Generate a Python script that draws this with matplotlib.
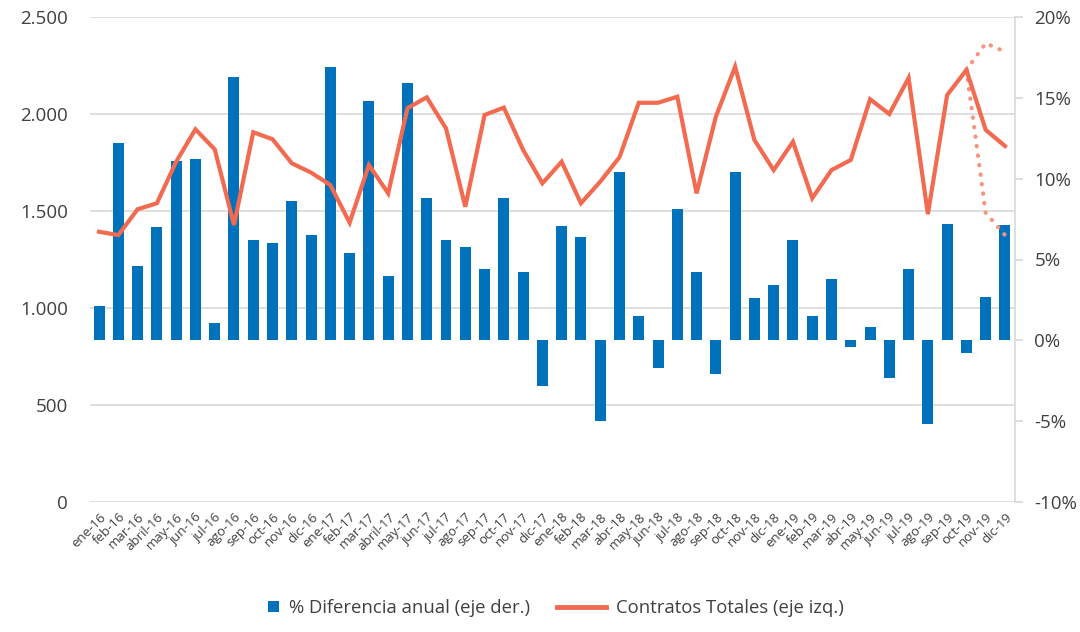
import numpy as np
import matplotlib.pyplot as plt
from matplotlib.ticker import FuncFormatter, MultipleLocator
from matplotlib.lines import Line2D
from matplotlib.patches import Rectangle
from matplotlib.legend_handler import HandlerBase

plt.rcParams['font.family'] = ['Open Sans', 'DejaVu Sans']

meses = [
    "ene-16", "feb-16", "mar-16", "abril-16", "may-16", "jun-16", "jul-16", "ago-16",
    "sep-16", "oct-16", "nov-16", "dic-16",
    "ene-17", "feb-17", "mar-17", "abril-17", "may-17", "jun-17", "jul-17", "ago-17",
    "sep-17", "oct-17", "nov-17", "dic-17",
    "ene-18", "feb-18", "mar-18", "abr-18", "may-18", "jun-18", "jul-18", "ago-18",
    "sep-18", "oct-18", "nov-18", "dic-18",
    "ene-19", "feb-19", "mar-19", "abr-19", "may-19", "jun-19", "jul-19", "ago-19",
    "sep-19", "oct-19", "nov-19", "dic-19",
]

# % diferencia anual (eje der.)
dif_anual = [
    2.1, 12.2, 4.6, 7.0, 11.1, 11.2, 1.1, 16.3, 6.2, 6.0, 8.6, 6.5,
    16.9, 5.4, 14.8, 4.0, 15.9, 8.8, 6.2, 5.8, 4.4, 8.8, 4.2, -2.8,
    7.1, 6.4, -5.0, 10.4, 1.5, -1.7, 8.1, 4.25, -2.1, 10.4, 2.6, 3.4,
    6.2, 1.5, 3.8, -0.4, 0.8, -2.3, 4.4, -5.2, 7.2, -0.8, 2.7, 7.15,
]

# Contratos totales (eje izq.)
contratos = [
    1393, 1376, 1509, 1540, 1754, 1921, 1818, 1428, 1906, 1870, 1746, 1698,
    1634, 1440, 1737, 1591, 2030, 2086, 1926, 1522, 1995, 2033, 1815, 1643,
    1754, 1540, 1651, 1777, 2058, 2058, 2089, 1591, 1986, 2244, 1866, 1711,
    1857, 1566, 1711, 1763, 2076, 2000, 2186, 1484, 2098, 2227, 1918, 1835,
]

# bandas punteadas (oct-19 a dic-19)
banda_idx = [45, 46, 47]
banda_sup = [2227, 2365, 2321]
banda_inf = [2227, 1490, 1376]

azul = "#0072BC"
naranja = "#F26A4F"
naranja_claro = "#F4957F"
gris = "#D9D9D9"
texto = "#404040"


class CuadradoHandler(HandlerBase):
    # cuadradito pegado al texto, como en la leyenda original
    def create_artists(self, legend, orig_handle, xdescent, ydescent,
                       width, height, fontsize, trans):
        s = 0.56 * fontsize
        r = Rectangle((-xdescent + width - s, -ydescent + (height - s) / 2), s, s,
                      facecolor=orig_handle.get_facecolor(), edgecolor="none",
                      transform=trans)
        return [r]


x = np.arange(len(meses))

fig = plt.figure(figsize=(10.8, 6.32), dpi=100)
ax = fig.add_axes([90 / 1080, 1 - 502 / 632, 925 / 1080, 485 / 632])
ax2 = ax.twinx()

# eje izquierdo: contratos, con la rejilla
ax.set_ylim(0, 2500)
ax.yaxis.set_major_locator(MultipleLocator(500))
ax.yaxis.set_major_formatter(FuncFormatter(lambda v, p: f"{v:,.0f}".replace(",", ".")))
ax.grid(axis="y", color=gris, linewidth=1.2)
ax.set_xlim(-0.47, len(meses) - 0.48)
for s in ax.spines.values():
    s.set_visible(False)
ax.tick_params(axis="y", length=0, pad=16, labelsize=13.5, labelcolor=texto)
ax.set_xticks(x)
ax.set_xticklabels(meses, rotation=45, ha="right", rotation_mode="anchor")
ax.tick_params(axis="x", length=0, pad=6, labelsize=9.5, labelcolor=texto)

# eje derecho: barras
ax2.bar(x, dif_anual, width=0.57, color=azul, zorder=2)
ax2.set_ylim(-10, 20)
ax2.yaxis.set_major_locator(MultipleLocator(5))
ax2.yaxis.set_major_formatter(FuncFormatter(lambda v, p: f"{v:.0f}%"))
for k in ["top", "left", "bottom"]:
    ax2.spines[k].set_visible(False)
ax2.spines["right"].set_color(gris)
ax2.spines["right"].set_linewidth(1.2)
ax2.tick_params(axis="y", length=6, width=1.2, color=gris, pad=8, labelsize=13.5, labelcolor=texto)

# línea de contratos dibujada encima de las barras (en escala del eje izq.)
ax2.plot(x, contratos, color=naranja, linewidth=3, solid_joinstyle="miter",
         transform=ax.transData, zorder=4)
for banda in (banda_sup, banda_inf):
    ax2.plot(banda_idx, banda, color=naranja_claro, linewidth=3,
             linestyle=(0, (0.1, 2.2)), dash_capstyle="round",
             transform=ax.transData, zorder=3)

handles = [
    Rectangle((0, 0), 1, 1, facecolor=azul),
    Line2D([], [], color=naranja, linewidth=3.5),
]
fig.legend(handles, ["% Diferencia anual (eje der.)", "Contratos Totales (eje izq.)"],
           handler_map={Rectangle: CuadradoHandler()},
           loc="center", bbox_to_anchor=(0.497, 1 - 608 / 632), ncol=2, frameon=False,
           fontsize=13.3, handlelength=2.65, columnspacing=1.5, handletextpad=0.54,
           labelcolor=texto)

plt.savefig("out.png", dpi=100)
